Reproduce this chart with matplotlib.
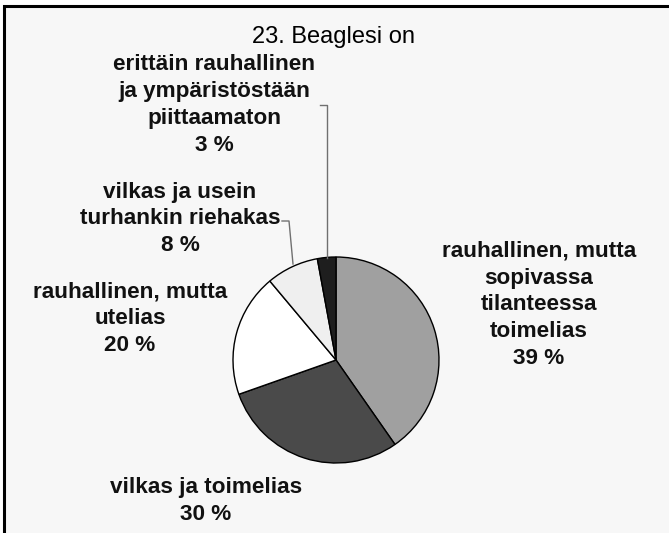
import matplotlib
matplotlib.use("Agg")
import matplotlib.pyplot as plt
from matplotlib.patches import Rectangle

# Data
categories = [
    "rauhallinen, mutta\nsopivassa\ntilanteessa\ntoimelias",
    "vilkas ja toimelias",
    "rauhallinen, mutta\nutelias",
    "vilkas ja usein\nturhankin riehakas",
    "erittäin rauhallinen\nja ympäristöstään\npiittaamaton",
]
shares = [40.3, 29.3, 19.3, 8.2, 2.9]          # wedge sizes as drawn
pct_labels = ["39 %", "30 %", "20 %", "8 %", "3 %"]
colors = ["#a0a0a0", "#4a4a4a", "#ffffff", "#efefef", "#1e1e1e"]
title = "23. Beaglesi on"

W, H = 669, 533
fig = plt.figure(figsize=(W / 100, H / 100), dpi=100)
fig.patch.set_facecolor("white")
ax = fig.add_axes([0, 0, 1, 1])
ax.set_xlim(0, W)
ax.set_ylim(0, H)
ax.set_aspect("equal")
ax.axis("off")

def Y(y):
    return H - y

# frame / chart area
ax.add_patch(Rectangle((4, Y(H + 20)), W + 20, H + 20 - 6, facecolor="#f7f7f7",
                       edgecolor="black", linewidth=2.2, zorder=0))

ax.pie(shares, colors=colors, startangle=90, counterclock=False,
       center=(336, Y(360)), radius=103, frame=True,
       wedgeprops=dict(edgecolor="black", linewidth=1.0))
ax.set_xlim(0, W)
ax.set_ylim(0, H)
ax.axis("off")

font = dict(family=["Liberation Sans", "DejaVu Sans"], fontweight="bold",
            fontsize=16.2, color="#111111", ha="center", va="center",
            linespacing=1.365)

label_pos = [(539, 305), (206, 501), (130, 319), (180, 219), (214, 105)]
for cat, pct, (x, y) in zip(categories, pct_labels, label_pos):
    ax.text(x, Y(y), cat + "\n" + pct, **font)

# leader lines
ax.plot([320, 327, 327], [Y(105), Y(105), Y(258)], color="#707070", lw=1.0, zorder=5)
ax.plot([282, 289, 293], [Y(221), Y(221), Y(264)], color="#707070", lw=1.0, zorder=5)

ax.text(333, Y(37), title, family=["Liberation Sans", "DejaVu Sans"],
        fontsize=17, color="black", ha="center", va="center")

fig.savefig("out.png", dpi=100, facecolor="white")
